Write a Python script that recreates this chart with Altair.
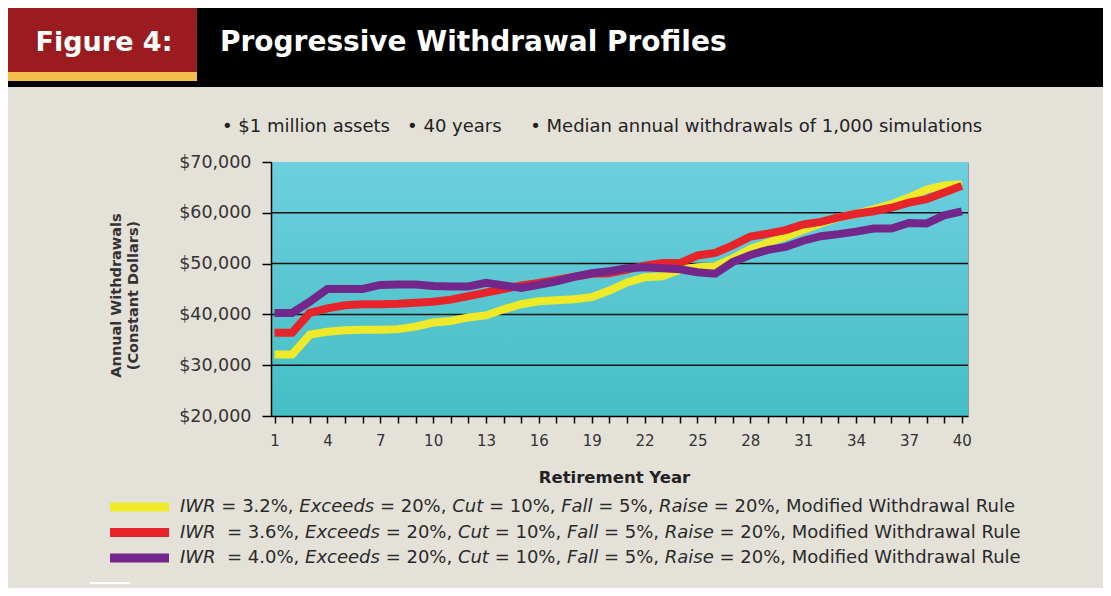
import re
import altair as alt
import pandas as pd

# ---------------- data ----------------
years = list(range(1, 41))
series_keys = ["3.2%", "3.6%", "4.0%"]
series_colors = ["#eeea2a", "#e8242b", "#74278a"]

iwr_32 = [32100, 32100, 36000, 36600, 36900, 37000, 37000, 37100, 37600, 38400,
          38700, 39400, 39800, 41000, 42000, 42600, 42800, 43000, 43400, 44700,
          46300, 47300, 47500, 48800, 49300, 49500, 51000, 52900, 54100, 55300,
          56600, 57900, 59100, 59800, 60700, 61700, 63000, 64600, 65400, 65600]
iwr_36 = [36400, 36400, 40300, 41200, 41800, 42000, 42000, 42100, 42300, 42500,
          42900, 43600, 44300, 45000, 45700, 46200, 46800, 47400, 48000, 48100,
          48800, 49600, 50100, 50100, 51600, 52100, 53600, 55300, 55900, 56600,
          57700, 58200, 59100, 59800, 60300, 61000, 62000, 62700, 64000, 65300]
iwr_40 = [40300, 40300, 42500, 45000, 45000, 45000, 45800, 45900, 45900, 45600,
          45500, 45500, 46200, 45700, 45200, 45800, 46500, 47400, 48100, 48500,
          49100, 49300, 49100, 48900, 48300, 48000, 50300, 51700, 52700, 53300,
          54500, 55400, 55800, 56300, 56900, 56900, 58000, 57900, 59500, 60300]

legend_labels = [
    "IWR = 3.2%, Exceeds = 20%, Cut = 10%, Fall = 5%, Raise = 20%, Modified Withdrawal Rule",
    "IWR  = 3.6%, Exceeds = 20%, Cut = 10%, Fall = 5%, Raise = 20%, Modified Withdrawal Rule",
    "IWR  = 4.0%, Exceeds = 20%, Cut = 10%, Fall = 5%, Raise = 20%, Modified Withdrawal Rule",
]
italic_terms = ["IWR", "Exceeds", "Cut", "Fall", "Raise"]
y_ticks = [20000, 30000, 40000, 50000, 60000, 70000]
grid_values = [30000, 40000, 50000, 60000]

title_left = "Figure 4:"
title_main = "Progressive Withdrawal Profiles"
subtitle = ("\u2022 $1 million assets\u00a0\u00a0 \u2022 40 years\u00a0\u00a0\u00a0\u00a0 "
            "\u2022 Median annual withdrawals of 1,000 simulations")

rows = []
for key, vals in zip(series_keys, [iwr_32, iwr_36, iwr_40]):
    for y, v in zip(years, vals):
        rows.append({"year": y, "value": v, "series": key})
df = pd.DataFrame(rows)
leg_df = pd.DataFrame({"row": [0, 1, 2], "series": series_keys})
grid_df = pd.DataFrame({"v": grid_values})

# legend label segments (italic terms / plain text), laid out with DejaVu Sans advances
FONT = "DejaVu Sans"
LEG_FS = 18
ADV = {" ": 651, "\u00a0": 651, "%": 1946, ",": 651, ".": 651, "=": 1716, "C": 1430,
       "E": 1294, "F": 1178, "I": 604, "M": 1767, "R": 1423, "W": 2025, "a": 1255,
       "c": 1126, "d": 1300, "e": 1260, "f": 721, "h": 1298, "i": 569, "l": 569,
       "n": 1298, "o": 1253, "r": 842, "s": 1067, "t": 803, "u": 1298, "w": 1675,
       "x": 1212}
for dg in "0123456789":
    ADV[dg] = 1303


def text_width(s, fs):
    return sum(ADV.get(ch, 1250) for ch in s) * fs / 2048.0


seg_rows = []
pattern = "(" + "|".join(italic_terms) + ")"
for r, lab in enumerate(legend_labels):
    off = 0.0
    for part in re.split(pattern, lab):
        if not part:
            continue
        lead = part[: len(part) - len(part.lstrip(" "))]
        off += text_width(lead, LEG_FS)
        txt = part.lstrip(" ")
        if not txt:
            continue
        seg_rows.append({"row": r, "seg": txt.replace(" ", "\u00a0"), "off": off,
                         "italic": part in italic_terms})
        off += text_width(txt, LEG_FS)
seg_df = pd.DataFrame(seg_rows)
seg_it = seg_df[seg_df["italic"]].drop(columns="italic")
seg_nm = seg_df[~seg_df["italic"]].drop(columns="italic")

# ---------------- layout ----------------
W, H = 697, 254
one = alt.Data(values=[{}])

yscale = alt.Scale(domain=[20000, 70000], nice=False, zero=False)
xscale = alt.Scale(domain=[0.8, 40.35], nice=False, zero=False)
color = alt.Color("series:N", scale=alt.Scale(domain=series_keys, range=series_colors), legend=None)
rowscale = alt.Scale(domain=[0, 2], range=[345, 396])
offscale = alt.Scale(domain=[0, 1000], range=[-91, 909], nice=False, zero=False)

gradient = alt.Gradient(
    gradient="linear",
    stops=[alt.GradientStop(color="#6dcfe0", offset=0),
           alt.GradientStop(color="#45bec4", offset=1)],
    x1=0, x2=0, y1=0, y2=1,
)

bg = alt.Chart(one).mark_rect(fill=gradient).encode(
    x=alt.value(0), x2=alt.value(W), y=alt.value(0), y2=alt.value(H))

grid = alt.Chart(grid_df).mark_rule(color="#111111", strokeWidth=1.5).encode(
    y=alt.Y("v:Q", scale=yscale, axis=None))

xaxis = alt.Axis(
    values=years,
    labelExpr="(datum.value - 1) % 3 == 0 ? datum.label : ''",
    labelFlush=False, labelOverlap=False,
    tickSize=7, tickColor="black", tickWidth=1.5,
    domainColor="black", domainWidth=1.5,
    labelFont=FONT, labelFontSize=15, labelColor="#333333", labelPadding=10,
    title="Retirement Year", titleFont=FONT, titleFontSize=16.5, titleFontWeight="bold",
    titleColor="#222222", titleX=343, titleY=61, titleAlign="center", titleBaseline="middle",
    grid=False, zindex=1,
)
yaxis = alt.Axis(
    values=y_ticks, format="$,.0f",
    tickSize=9, tickColor="black", tickWidth=1.5,
    domainColor="black", domainWidth=1.5,
    labelFont=FONT, labelFontSize=17.5, labelColor="#333333", labelPadding=11,
    title=["Annual Withdrawals", "(Constant Dollars)"], titleFont=FONT, titleFontSize=14.5,
    titleFontWeight="bold", titleColor="#333333", titleX=-162, titleY=133,
    titleAlign="center", titleBaseline="top", titleAngle=270, titleLineHeight=17,
    grid=False, zindex=1,
)

lines = alt.Chart(df).mark_line(strokeWidth=8).encode(
    x=alt.X("year:Q", scale=xscale, axis=xaxis),
    y=alt.Y("value:Q", scale=yscale, axis=yaxis),
    color=color,
    order=alt.Order("year:Q"),
)

leg_sw = alt.Chart(leg_df).mark_rule(strokeWidth=9).encode(
    x=alt.value(-161), x2=alt.value(-102),
    y=alt.Y("row:Q", scale=rowscale, axis=None),
    color=color,
)


def seg_layer(data, style):
    return alt.Chart(data).mark_text(
        align="left", baseline="middle", font=FONT, fontSize=LEG_FS,
        fontStyle=style, color="#2a2a2a").encode(
        x=alt.X("off:Q", scale=offscale, axis=None),
        y=alt.Y("row:Q", scale=rowscale, axis=None),
        text="seg:N",
    )


leg_it = seg_layer(seg_it, "italic")
leg_nm = seg_layer(seg_nm, "normal")

# header decoration
hdr_black = alt.Chart(one).mark_rect(color="#000000").encode(
    x=alt.value(-263), x2=alt.value(834), y=alt.value(-154), y2=alt.value(-75))
hdr_red = alt.Chart(one).mark_rect(color="#9b1c20").encode(
    x=alt.value(-263), x2=alt.value(-74), y=alt.value(-154), y2=alt.value(-90))
hdr_gold = alt.Chart(one).mark_rect(color="#f3bf48").encode(
    x=alt.value(-263), x2=alt.value(-74), y=alt.value(-90), y2=alt.value(-81))
t1 = alt.Chart(one).mark_text(
    text=title_left, font=FONT, fontSize=27, fontWeight="bold", color="white",
    align="center", baseline="middle").encode(x=alt.value(-167), y=alt.value(-119))
t2 = alt.Chart(one).mark_text(
    text=title_main, font=FONT, fontSize=28, fontWeight="bold", color="white",
    align="left", baseline="middle").encode(x=alt.value(-51), y=alt.value(-119))
t3 = alt.Chart(one).mark_text(
    text=subtitle, font=FONT, fontSize=18, color="#222222",
    align="left", baseline="middle").encode(x=alt.value(-49), y=alt.value(-35))
stray = alt.Chart(one).mark_rule(color="white", strokeWidth=2).encode(
    x=alt.value(-181), x2=alt.value(-141), y=alt.value(421))

chart = alt.layer(
    hdr_black, hdr_red, hdr_gold, t1, t2, t3, stray,
    bg, grid, lines, leg_sw, leg_it, leg_nm,
).resolve_scale(x="independent", y="independent").properties(
    width=W, height=H,
    padding={"left": 263, "top": 154, "right": 135, "bottom": 172},
    autosize="none",
    background="#e4e1d9",
).configure_view(stroke="#8f9c9c", strokeWidth=1)

chart.save("out.html", embed_options={"renderer": "svg", "actions": False})
